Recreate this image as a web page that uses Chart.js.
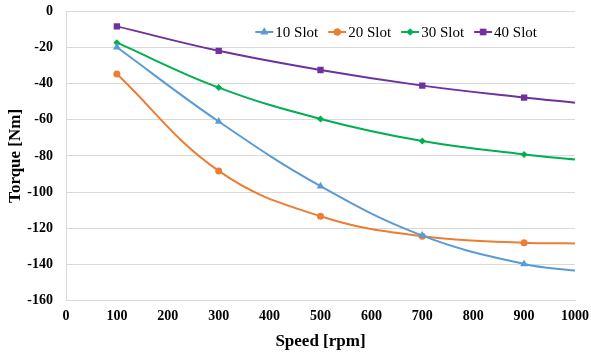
<!DOCTYPE html>
<html>
<head>
<meta charset="utf-8">
<script src="https://cdn.jsdelivr.net/npm/chart.js@4"></script>
<style>
  html, body { margin: 0; padding: 0; background: #fff; }
  #wrap { width: 591px; height: 354px; }
</style>
</head>
<body>
<div id="wrap"><canvas id="torque"></canvas></div>
<script>
// Torque vs speed for four slot counts
const speeds = [100, 300, 500, 700, 900, 1000];
const slot10 = [-20, -61, -96.7, -124, -139.7, -143.3];
const slot20 = [-34.8, -88.3, -113.3, -124.4, -128, -128.3];
const slot30 = [-17.5, -42.3, -59.6, -71.8, -79.2, -82];
const slot40 = [-8.5, -22, -32.6, -41.2, -47.8, -50.6];
const yTicks = [0, -20, -40, -60, -80, -100, -120, -140, -160];

const serif = '"Liberation Serif", "Times New Roman", serif';

function pts(vals) {
    return speeds.map((s, i) => ({ x: s, y: vals[i] }));
}

// markers on measured points only, the last point just carries the curve
const markerSizes = (r) => speeds.map(s => (s === 1000 ? 0 : r));

function series(label, vals, color, style, r) {
    return {
        label: label,
        data: pts(vals),
        borderColor: color,
        backgroundColor: color,
        borderWidth: 2,
        pointStyle: style,
        pointRadius: markerSizes(r),
        pointHoverRadius: markerSizes(r),
        pointBorderWidth: 0,
        markerR: r,
        tension: 0.4,
        fill: false
    };
}

// Excel-style legend sitting inside the plot area, top right:
// a short line with the marker on it, then the label.
const insideLegend = {
    id: 'insideLegend',
    afterDatasetsDraw(chart) {
        const c = chart.ctx;
        const area = chart.chartArea;
        const sample = 18;
        const gap = 2;
        const spacing = 10;
        c.save();
        c.font = '15px ' + serif;
        const items = chart.data.datasets.map(ds => ({
            ds: ds,
            w: sample + gap + c.measureText(ds.label).width
        }));
        const total = items.reduce((a, it) => a + it.w, 0) + spacing * (items.length - 1);
        let x = area.right - 38 - total;
        const y = area.top + 21;
        items.forEach(it => {
            const ds = it.ds;
            c.strokeStyle = ds.borderColor;
            c.lineWidth = 2;
            c.beginPath();
            c.moveTo(x, y);
            c.lineTo(x + sample, y);
            c.stroke();
            c.fillStyle = ds.borderColor;
            Chart.helpers.drawPoint(c, {
                pointStyle: ds.pointStyle,
                radius: ds.markerR,
                rotation: 0,
                borderWidth: 0
            }, x + sample / 2, y);
            c.fill();
            c.fillStyle = '#000';
            c.textBaseline = 'middle';
            c.fillText(ds.label, x + sample + gap, y + 1);
            x += it.w + spacing;
        });
        c.restore();
    }
};

new Chart(document.getElementById('torque'), {
    type: 'line',
    data: {
        datasets: [
            series('10 Slot', slot10, '#5B9BD5', 'triangle', 4.5),
            series('20 Slot', slot20, '#ED7D31', 'circle', 3.5),
            series('30 Slot', slot30, '#00B050', 'rectRot', 3.5),
            series('40 Slot', slot40, '#7030A0', 'rect', 4.5)
        ]
    },
    plugins: [insideLegend],
    options: {
        responsive: true,
        maintainAspectRatio: false,
        animation: false,
        layout: { padding: { left: 5, right: 16, top: 11, bottom: 2 } },
        scales: {
            x: {
                type: 'linear',
                min: 0,
                max: 1000,
                afterFit: (s) => { s.paddingRight = 0; s.paddingLeft = 0; },
                ticks: {
                    stepSize: 100,
                    color: '#000',
                    padding: 7,
                    font: { family: serif, size: 14, weight: 'bold' },
                    maxRotation: 0,
                    callback: (v) => String(v)
                },
                grid: { display: false, drawTicks: false },
                border: { display: true, color: '#d9d9d9' },
                title: {
                    display: true,
                    text: 'Speed [rpm]',
                    color: '#000',
                    font: { family: serif, size: 17, weight: 'bold' },
                    padding: { top: 0, bottom: 0 }
                }
            },
            y: {
                min: -160,
                max: 0,
                afterBuildTicks: (axis) => {
                    axis.ticks = yTicks.map(v => ({ value: v }));
                },
                afterFit: (s) => {
                    s.paddingTop = 0;
                    s.paddingBottom = 0;
                    s.width = 61;
                },
                ticks: {
                    color: '#000',
                    font: { family: serif, size: 14, weight: 'bold' },
                    padding: 13
                },
                grid: { color: '#d9d9d9', drawTicks: false },
                border: { display: true, color: '#d9d9d9' },
                title: {
                    display: true,
                    text: 'Torque [Nm]',
                    color: '#000',
                    font: { family: serif, size: 17, weight: 'bold' },
                    padding: { top: 0, bottom: 0 }
                }
            }
        },
        plugins: {
            legend: { display: false },
            tooltip: { enabled: false }
        }
    }
});
</script>
</body>
</html>
